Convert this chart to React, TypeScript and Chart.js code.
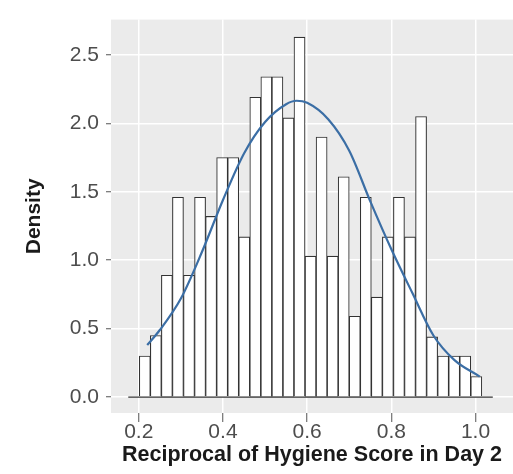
import React, { useEffect, useRef } from "react";
import { Chart, registerables } from "chart.js";

Chart.register(...registerables);

// ---- data ----
const BIN_START = 0.2012;
const BIN_WIDTH = 0.02625;
const densities = [
  0.30, 0.45, 0.89, 1.46, 0.89, 1.46, 1.32, 1.75, 1.75, 1.17, 2.19,
  2.34, 2.34, 2.04, 2.63, 1.03, 1.90, 1.03, 1.61, 0.59, 1.46, 0.73,
  1.17, 1.46, 1.17, 2.05, 0.44, 0.30, 0.30, 0.30, 0.15,
];
const curveX = [0.22, 0.25, 0.3, 0.35, 0.4, 0.45, 0.5, 0.55, 0.575, 0.6, 0.65, 0.7, 0.75, 0.8, 0.85, 0.9, 0.95, 1.01];
const curveY = [0.38, 0.49, 0.72, 1.06, 1.44, 1.78, 2.01, 2.14, 2.165, 2.15, 2.03, 1.8, 1.43, 1.08, 0.76, 0.45, 0.27, 0.15];
const baselineX = [0.175, 1.041];
const xTicks = [0.2, 0.4, 0.6, 0.8, 1.0];
const yTicks = [0, 0.5, 1.0, 1.5, 2.0, 2.5];
const X_TITLE = "Reciprocal of Hygiene Score in Day 2";
const Y_TITLE = "Density";

const FONT = "'Liberation Sans', Arial, Helvetica, sans-serif";

const panelBg = {
  id: "panelBg",
  beforeDraw(chart: any) {
    const { ctx, chartArea: a } = chart;
    ctx.save();
    ctx.fillStyle = "#ebebeb";
    ctx.fillRect(a.left, a.top, a.right - a.left, a.bottom - a.top);
    ctx.restore();
  },
};

export default function App() {
  const ref = useRef<HTMLCanvasElement | null>(null);

  useEffect(() => {
    document.body.style.margin = "0";
    const canvas = ref.current;
    if (!canvas) return;

    const barData = densities.map((d, i) => ({ x: BIN_START + BIN_WIDTH * (i + 0.5), y: d }));
    const curveData = curveX.map((x, i) => ({ x, y: curveY[i] }));
    const baseData = baselineX.map((x) => ({ x, y: 0 }));

    const chart = new Chart(canvas, {
      type: "bar",
      data: {
        datasets: [
          {
            type: "line",
            data: curveData,
            borderColor: "#3b6ea5",
            borderWidth: 2.2,
            pointRadius: 0,
            tension: 0.4,
            cubicInterpolationMode: "monotone",
            fill: false,
            order: 0,
          } as any,
          {
            type: "line",
            data: baseData,
            borderColor: "#333333",
            borderWidth: 1.3,
            pointRadius: 0,
            fill: false,
            order: 1,
          } as any,
          {
            type: "bar",
            data: barData,
            backgroundColor: "#ffffff",
            borderColor: "#333333",
            borderWidth: 1.1,
            barPercentage: 1,
            categoryPercentage: 1,
            order: 2,
          } as any,
        ],
      },
      options: {
        animation: false,
        responsive: false,
        events: [],
        layout: { padding: { top: 10, right: 0, bottom: 0, left: 0 } },
        plugins: { legend: { display: false }, tooltip: { enabled: false } },
        scales: {
          x: {
            type: "linear",
            offset: false,
            min: 0.134,
            max: 1.089,
            afterBuildTicks: (s: any) => {
              s.ticks = xTicks.map((v) => ({ value: v }));
            },
            afterFit: (s: any) => {
              s.height = 61;
            },
            ticks: {
              callback: (v: any) => Number(v).toFixed(1),
              font: { family: FONT, size: 21, lineHeight: 1 },
              color: "#4d4d4d",
              padding: 0,
              maxRotation: 0,
              autoSkip: false,
            },
            grid: { offset: false, color: "#ffffff", lineWidth: 1.5, tickColor: "#555555", tickLength: 9, tickWidth: 1 },
            border: { display: false },
            title: {
              display: true,
              text: X_TITLE,
              color: "#1a1a1a",
              font: { family: FONT, size: 21.5, weight: "bold" },
              padding: { top: 0, bottom: 6 },
            },
          } as any,
          y: {
            type: "linear",
            min: -0.1163,
            max: 2.758,
            afterBuildTicks: (s: any) => {
              s.ticks = yTicks.map((v) => ({ value: v }));
            },
            afterFit: (s: any) => {
              s.width = 111;
            },
            ticks: {
              callback: (v: any) => Number(v).toFixed(1),
              font: { family: FONT, size: 21 },
              color: "#4d4d4d",
              padding: 7,
            },
            grid: { color: "#ffffff", lineWidth: 1.5, tickColor: "#555555", tickLength: 5, tickWidth: 1 },
            border: { display: false },
            title: {
              display: true,
              text: Y_TITLE,
              color: "#1a1a1a",
              font: { family: FONT, size: 21, weight: "bold" },
              padding: { top: 22, bottom: 0 },
            },
          } as any,
        },
      },
      plugins: [panelBg],
    });

    return () => chart.destroy();
  }, []);

  return <canvas ref={ref} width={513} height={474} style={{ display: "block" }} />;
}
